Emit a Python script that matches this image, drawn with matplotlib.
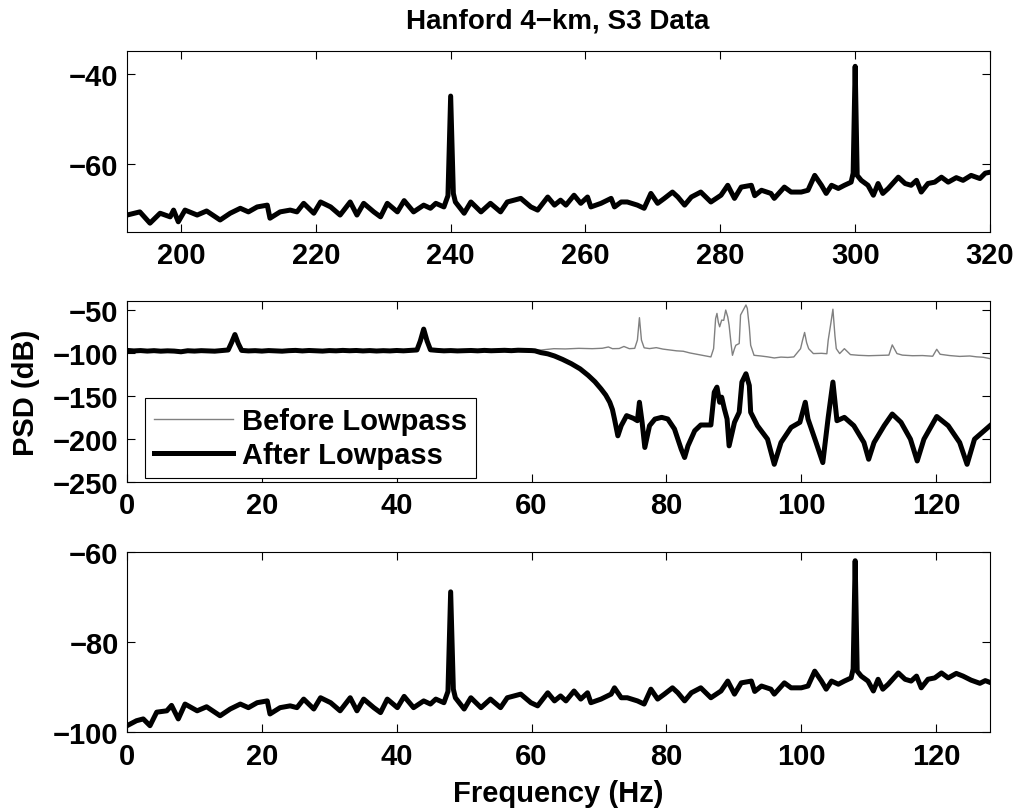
import numpy as np
import matplotlib
matplotlib.use("Agg")
import matplotlib.pyplot as plt

# ---- data ----
# top panel: raw band 192-320 Hz
top_freq = [192.0, 193.9, 195.4, 196.9, 198.4, 198.9, 199.6, 200.6, 202.4, 203.8,
            205.8, 207.3, 208.8, 210.0, 211.3, 212.8, 213.2, 214.7, 216.2, 217.2,
            218.2, 219.7, 220.7, 222.2, 223.6, 225.1, 226.1, 227.1, 228.6, 229.6,
            230.6, 232.1, 233.1, 234.5, 236.0, 237.0, 237.8, 239.0, 239.6, 240.0,
            240.4, 240.7, 242.0, 243.0, 244.5, 245.9, 247.4, 248.4, 250.4, 251.9,
            252.9, 254.4, 255.4, 256.3, 257.1, 258.3, 259.3, 260.3, 260.8, 262.3,
            263.8, 264.3, 265.3, 266.2, 267.7, 268.7, 269.7, 270.7, 271.7, 272.9,
            273.7, 274.7, 275.7, 277.1, 278.6, 280.1, 281.1, 282.1, 283.1, 284.6,
            285.1, 286.1, 287.5, 288.0, 289.5, 290.5, 292.0, 293.0, 294.0, 295.0,
            295.7, 296.5, 297.5, 298.4, 299.4, 299.7, 300.0, 300.3, 300.9, 301.9,
            302.7, 303.4, 304.1, 304.9, 306.4, 307.4, 308.3, 309.1, 309.8, 310.8,
            311.8, 312.8, 313.8, 315.0, 316.0, 317.2, 318.5, 319.3, 320.0]
top_psd = [-71.3, -70.6, -73.1, -70.9, -71.7, -70.2, -72.8, -70.2, -71.3, -70.4,
           -72.4, -70.9, -69.8, -70.6, -69.5, -69.1, -72.0, -70.6, -70.2, -70.6,
           -68.7, -70.9, -68.4, -69.5, -71.3, -68.4, -71.3, -68.7, -70.6, -71.7,
           -68.7, -70.6, -68.1, -70.6, -69.1, -69.8, -68.7, -69.5, -67.0, -44.9,
           -66.5, -68.4, -70.9, -68.4, -70.6, -68.7, -70.6, -68.4, -67.6, -69.5,
           -70.2, -67.3, -69.1, -68.0, -69.1, -66.9, -68.7, -67.3, -69.5, -68.7,
           -67.6, -69.5, -68.4, -68.4, -69.1, -69.8, -66.5, -68.7, -67.6, -66.2,
           -67.3, -69.1, -67.3, -66.2, -68.4, -66.9, -64.7, -67.6, -65.1, -64.7,
           -67.0, -65.8, -66.5, -67.6, -65.1, -66.2, -66.2, -65.8, -62.5, -64.7,
           -66.5, -64.7, -65.4, -64.7, -64.0, -62.0, -38.3, -62.5, -63.6, -64.7,
           -66.9, -64.3, -66.5, -65.4, -62.9, -64.3, -64.7, -63.6, -66.2, -64.3,
           -64.0, -62.9, -64.0, -63.0, -63.6, -62.5, -63.2, -62.0, -61.8]

# middle panel: 0-60 Hz is the same for both traces
low_freq = [0, 1, 2, 3, 4, 5, 6, 7, 8, 9, 10, 11, 12, 13, 14, 15, 15.5, 16, 16.5, 17,
            18, 19, 20, 21, 22, 23, 24, 25, 26, 27, 28, 29, 30, 31, 32, 33, 34, 35,
            36, 37, 38, 39, 40, 41, 42, 43, 43.5, 44, 44.5, 45, 46, 47, 48, 49, 50,
            51, 52, 53, 54, 55, 56, 57, 58, 59, 60]
low_psd = [-97.0, -97.6, -97.2, -97.8, -97.3, -97.9, -97.5, -97.8, -98.6, -97.4,
           -97.8, -97.3, -97.6, -97.9, -97.2, -96.5, -88.0, -78.5, -89.0, -97.0,
           -97.6, -97.3, -97.8, -97.2, -97.5, -97.9, -97.3, -97.0, -97.6, -97.1,
           -97.4, -97.8, -97.2, -97.5, -97.0, -97.4, -97.1, -97.6, -97.2, -97.7,
           -97.3, -97.6, -97.1, -97.5, -97.0, -96.5, -86.0, -72.2, -86.0, -96.3,
           -97.0, -97.5, -97.2, -97.6, -97.3, -97.1, -97.5, -97.0, -97.4, -97.2,
           -96.9, -97.3, -96.8, -97.0, -97.2]

before_freq = [61.5, 63.3, 65.0, 67.0, 69.0, 70.5, 71.4, 72.0, 73.0, 73.7, 74.5, 75.3,
               75.7, 76.0, 76.3, 76.7, 77.5, 78.5, 79.5, 80.5, 81.5, 82.5, 83.5, 84.5,
               85.5, 86.6, 87.0, 87.3, 87.5, 87.7, 87.9, 88.2, 88.5, 88.8, 89.1, 89.3,
               89.6, 89.8, 90.1, 90.3, 90.8, 91.0, 91.4, 91.8, 92.0, 92.3, 92.5, 93.0,
               94.0, 95.0, 96.0, 97.0, 98.0, 98.9, 99.9, 100.2, 100.5, 100.8, 101.1,
               101.8, 103.0, 103.8, 104.0, 104.4, 104.7, 105.0, 105.2, 105.7, 106.4,
               107.3, 108.5, 110.0, 111.5, 113.0, 113.5, 114.2, 115.0, 116.5, 118.0,
               119.5, 120.1, 120.6, 122.0, 123.5, 125.0, 126.0, 127.0, 128.0]
before_psd = [-96.5, -95.0, -95.3, -94.6, -95.0, -94.5, -93.0, -95.0, -94.8, -92.4,
              -95.0, -94.6, -85.0, -58.9, -85.0, -94.0, -94.9, -93.8, -95.5, -96.5,
              -97.5, -98.0, -100.0, -101.5, -103.0, -104.6, -95.0, -60.0, -53.9, -64.0,
              -69.5, -61.7, -62.0, -50.0, -58.0, -67.5, -90.0, -102.7, -95.0, -91.0,
              -89.0, -55.8, -50.0, -44.1, -48.0, -70.0, -91.0, -102.7, -103.5, -104.5,
              -105.8, -104.8, -105.2, -104.6, -95.0, -85.0, -76.1, -88.0, -95.0,
              -100.7, -100.4, -100.9, -85.1, -65.0, -49.0, -80.0, -95.0, -100.7, -95.0,
              -101.9, -102.7, -103.2, -102.8, -102.5, -90.6, -100.7, -102.5, -103.2,
              -103.0, -103.8, -95.7, -101.5, -103.0, -104.0, -103.5, -104.5, -105.0,
              -106.6]

after_freq = [60.5, 61.4, 62.4, 63.4, 64.6, 65.9, 67.2, 68.4, 69.4, 70.3, 71.0, 71.6,
              72.0, 72.3, 72.8, 73.3, 74.1, 75.1, 75.7, 76.0, 76.4, 76.8, 77.5, 78.3,
              79.3, 80.2, 81.2, 82.2, 82.7, 83.2, 84.2, 85.1, 86.6, 87.1, 87.5, 87.9,
              88.2, 88.6, 89.0, 89.3, 90.1, 90.8, 91.2, 91.8, 92.3, 92.5, 93.5, 95.0,
              96.0, 97.0, 98.5, 99.8, 100.6, 101.0, 102.2, 103.2, 104.0, 104.7, 105.3,
              106.4, 107.8, 109.3, 110.0, 110.8, 112.3, 113.5, 114.8, 116.2, 117.2,
              118.2, 119.9, 120.1, 121.8, 123.5, 124.6, 125.7, 128.0]
after_psd = [-97.5, -99.6, -101.0, -103.5, -107.5, -112.5, -118.5, -126.1, -133.5,
             -141.8, -149.0, -157.4, -166.0, -176.9, -196.5, -184.7, -173.0, -176.1,
             -178.9, -157.4, -180.8, -210.1, -184.7, -177.0, -175.0, -176.9, -188.6,
             -212.1, -221.8, -208.2, -190.6, -183.9, -183.9, -145.7, -139.8, -157.4,
             -151.5, -165.2, -176.9, -208.2, -180.8, -169.1, -133.9, -124.2, -137.9,
             -169.1, -184.7, -200.4, -229.7, -204.3, -186.7, -180.8, -157.4, -176.9,
             -204.3, -227.7, -175.0, -133.9, -178.9, -175.0, -184.7, -204.3, -223.8,
             -204.3, -184.7, -171.1, -180.8, -200.4, -225.8, -200.4, -176.9, -174.0,
             -184.7, -204.3, -229.7, -200.4, -184.7]

# bottom panel: heterodyned band, 0-128 Hz
bot_freq = [0.0, 1.4, 2.4, 3.4, 4.4, 5.9, 6.6, 7.6, 8.6, 10.4, 11.8, 13.8, 15.3, 16.8,
            18.0, 19.3, 20.8, 21.2, 22.7, 24.2, 25.2, 26.2, 27.7, 28.7, 30.2, 31.6,
            33.1, 34.1, 35.1, 36.6, 37.6, 38.6, 40.1, 41.1, 42.5, 44.0, 45.0, 45.8,
            47.0, 47.6, 48.0, 48.4, 48.7, 50.0, 51.0, 52.5, 53.9, 55.4, 56.4, 58.4,
            59.9, 60.9, 62.4, 63.4, 64.3, 65.1, 66.3, 67.3, 68.3, 68.8, 70.3, 71.8,
            72.3, 73.3, 74.2, 75.7, 76.7, 77.7, 78.7, 79.7, 80.9, 81.7, 82.7, 83.7,
            85.1, 86.6, 88.1, 89.1, 90.1, 91.1, 92.6, 93.1, 94.1, 95.5, 96.0, 97.5,
            98.5, 100.0, 101.0, 102.0, 103.0, 103.7, 104.5, 105.5, 106.4, 107.4,
            107.7, 108.0, 108.3, 108.9, 109.9, 110.7, 111.4, 112.1, 112.9, 114.4,
            115.4, 116.3, 117.1, 117.8, 118.8, 119.8, 120.8, 121.8, 123.0, 124.0,
            125.2, 126.5, 127.3, 128.0]
bot_psd = [-98.6, -97.5, -97.1, -98.6, -95.6, -95.3, -94.1, -97.1, -93.8, -95.3,
           -94.4, -96.4, -94.9, -93.8, -94.6, -93.5, -93.1, -96.0, -94.6, -94.2,
           -94.6, -92.7, -94.9, -92.4, -93.5, -95.3, -92.4, -95.3, -92.7, -94.6,
           -95.7, -92.7, -94.6, -92.1, -94.6, -93.1, -93.8, -92.7, -93.5, -91.0,
           -68.9, -90.5, -92.4, -94.9, -92.4, -94.6, -92.7, -94.6, -92.4, -91.6,
           -93.5, -94.2, -91.3, -93.1, -92.0, -93.1, -90.9, -92.7, -91.3, -93.5,
           -92.7, -91.6, -90.2, -92.4, -92.4, -93.1, -93.8, -90.5, -92.7, -91.6,
           -90.2, -91.3, -93.1, -91.3, -90.2, -92.4, -90.9, -88.7, -91.6, -89.1,
           -88.7, -91.0, -89.8, -90.5, -91.6, -89.1, -90.2, -90.2, -89.8, -86.5,
           -88.7, -90.5, -88.7, -89.4, -88.7, -88.0, -86.0, -62.0, -86.5, -87.6,
           -88.7, -90.9, -88.3, -90.5, -89.4, -86.9, -88.3, -88.7, -87.6, -90.2,
           -88.3, -88.0, -86.9, -88.0, -87.0, -87.6, -88.5, -89.2, -88.6, -89.0]

# ---- figure ----
plt.rcParams["font.family"] = ["Liberation Sans", "DejaVu Sans"]
plt.rcParams["font.weight"] = "bold"
plt.rcParams["font.size"] = 21
plt.rcParams["axes.linewidth"] = 0.8

fig = plt.figure(figsize=(10.18, 8.12), dpi=100)
left, width, height = 0.1248, 0.8477, 0.2220
ax_top = fig.add_axes([left, 0.7134, width, height])
ax_mid = fig.add_axes([left, 0.4055, width, height])
ax_bot = fig.add_axes([left, 0.0973, width, height])

THICK = 3.6

ax_top.plot(top_freq, top_psd, color="black", lw=THICK)
ax_top.set_xlim(192, 320)
ax_top.set_ylim(-75, -35)
ax_top.set_xticks(np.arange(200, 321, 20))
ax_top.set_yticks([-60, -40])

ax_mid.plot(low_freq + before_freq, low_psd + before_psd, color="0.5", lw=1.0,
            label="Before Lowpass")
ax_mid.plot(low_freq + after_freq, low_psd + after_psd, color="black", lw=THICK,
            label="After Lowpass")
ax_mid.set_xlim(0, 128)
ax_mid.set_ylim(-250, -40)
ax_mid.set_xticks(np.arange(0, 121, 20))
ax_mid.set_yticks([-250, -200, -150, -100, -50])
ax_mid.set_ylabel("PSD (dB)", fontweight="bold")
ax_mid.yaxis.set_label_coords(-0.101, 0.5)
leg = ax_mid.legend(loc="lower left", bbox_to_anchor=(0.021, 0.021),
                    borderaxespad=0, fancybox=False, framealpha=1,
                    edgecolor="black", handlelength=2.7, handletextpad=0.32,
                    borderpad=0.3, labelspacing=0.22)
leg.get_frame().set_linewidth(0.8)

ax_bot.plot(bot_freq, bot_psd, color="black", lw=THICK)
ax_bot.set_xlim(0, 128)
ax_bot.set_ylim(-100, -60)
ax_bot.set_xticks(np.arange(0, 121, 20))
ax_bot.set_yticks([-100, -80, -60])
ax_bot.set_xlabel("Frequency (Hz)", fontweight="bold", labelpad=7)

for ax in (ax_top, ax_mid, ax_bot):
    ax.tick_params(direction="in", top=True, right=True, length=6, width=0.8)
    ax.tick_params(axis="x", pad=7)
    ax.tick_params(axis="y", pad=6)

fig.text(0.548, 0.973, "Hanford 4\u2212km, S3 Data", ha="center", va="center",
         fontsize=20, fontweight="bold")

fig.savefig("out.png", dpi=100)
